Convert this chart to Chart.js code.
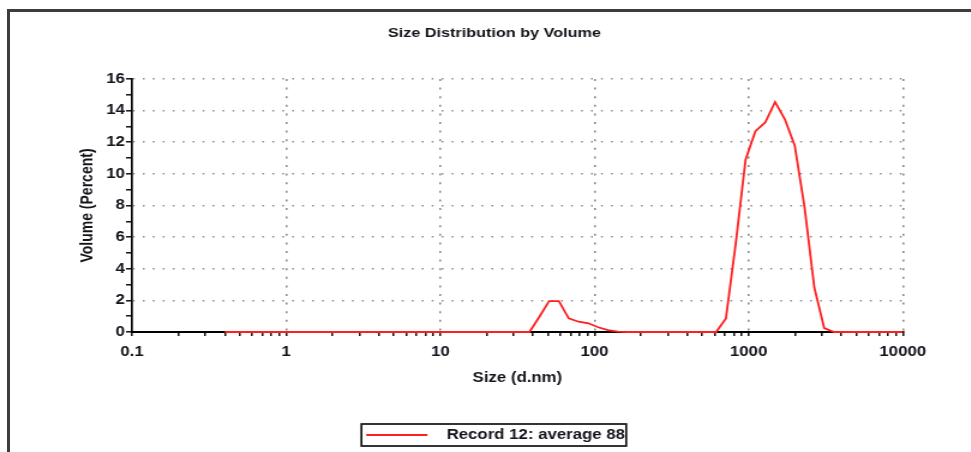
<!DOCTYPE html>
<html>
<head>
<meta charset="utf-8">
<title>Size Distribution by Volume</title>
<script src="https://cdn.jsdelivr.net/npm/chart.js@4"></script>
<style>
    html, body {
        margin: 0;
        padding: 0;
        background: #fff;
        width: 971px;
        height: 452px;
        overflow: hidden;
    }
    #report-frame {
        position: absolute;
        left: 7px;
        top: 9px;
        width: 1000px;
        height: 500px;
        border-top: 3px solid #3d3d3d;
        border-left: 3px solid #3d3d3d;
    }
    /* the report plot is drawn a bit narrow and stretched sideways */
    #chart-wrap {
        position: absolute;
        left: 0;
        top: 0;
        width: 824px;
        height: 452px;
        transform: scaleX(1.2);
        transform-origin: 0 0;
    }
</style>
</head>
<body>
<div id="report-frame"></div>
<div id="chart-wrap"><canvas id="size-chart" width="824" height="452"></canvas></div>
<script>
// size classes (d.nm) and volume %
const sizeClasses = [
    0.4, 0.4632, 0.5365, 0.6213, 0.7195, 0.8332, 0.9649, 1.117, 1.294, 1.499,
    1.736, 2.010, 2.328, 2.696, 3.122, 3.615, 4.187, 4.849, 5.615, 6.503,
    7.531, 8.721, 10.10, 11.70, 13.54, 15.69, 18.17, 21.04, 24.36, 28.21,
    32.67, 37.84, 43.82, 50.75, 58.77, 68.06, 78.82, 91.28, 105.7, 122.4,
    141.8, 164.2, 190.1, 220.2, 255.0, 295.3, 342.0, 396.1, 458.7, 531.2,
    615.1, 712.4, 825.0, 955.4, 1106, 1281, 1484, 1718, 1990, 2305,
    2669, 3091, 3580, 4145, 4801, 5560, 6439, 7456, 8635, 10000
]
const record12Volume = [
    0, 0, 0, 0, 0, 0, 0, 0, 0, 0,
    0, 0, 0, 0, 0, 0, 0, 0, 0, 0,
    0, 0, 0, 0, 0, 0, 0, 0, 0, 0,
    0, 0, 0.95, 1.95, 1.95, 0.86, 0.65, 0.55, 0.3, 0.12,
    0.02, 0, 0, 0, 0, 0, 0, 0, 0, 0,
    0, 0.86, 5.6, 10.9, 12.7, 13.25, 14.55, 13.45, 11.8, 7.9,
    2.8, 0.25, 0, 0, 0, 0, 0, 0, 0, 0
]
const recordLabel = 'Record 12: average 88'

const sizeDecades = [0.1, 1, 10, 100, 1000, 10000]
const sizeDecadeLabels = ['0.1', '1', '10', '100', '1000', '10000']
const volumeTicks = [0, 2, 4, 6, 8, 10, 12, 14, 16]

const FONT = "'Liberation Sans', Arial, sans-serif"
const TEXT = '#14141c'
const DOTS = '#8c8c8c'
const RED = '#ff1f1f'

Chart.defaults.font.family = FONT
Chart.defaults.color = TEXT

// short red line used as the legend sample
function makeLegendSample() {
    const c = document.createElement('canvas')
    c.width = 62
    c.height = 4
    const g = c.getContext('2d')
    g.strokeStyle = RED
    g.lineWidth = 1.8
    g.beginPath()
    g.moveTo(2, 2)
    g.lineTo(53, 2)
    g.stroke()
    return c
}

// box around the legend entry
const legendFrame = {
    id: 'legendFrame',
    afterDraw(chart) {
        const box = chart.legend.legendHitBoxes[0]
        if (!box) {
            return
        }
        const ctx = chart.ctx
        ctx.save()
        ctx.strokeStyle = '#111'
        ctx.lineWidth = 1.7
        ctx.strokeRect(box.left - 2, box.top - 4, box.width + 3, box.height + 8)
        ctx.restore()
    }
}

function isDecade(value) {
    return sizeDecades.indexOf(value) !== -1
}

var sizeChart
function setupChart() {
    const ctx = document.getElementById('size-chart').getContext('2d')
    sizeChart = new Chart(ctx, {
        type: 'line',
        data: {
            datasets: [
                {
                    label: recordLabel,
                    data: sizeClasses.map((s, i) => ({ x: s, y: record12Volume[i] })),
                    borderColor: RED,
                    backgroundColor: RED,
                    borderWidth: 1.8,
                    pointRadius: 0,
                    fill: false,
                    tension: 0,
                    clip: false
                }
            ]
        },
        options: {
            responsive: false,
            animation: false,
            layout: { padding: 0 },
            plugins: {
                title: {
                    display: true,
                    text: 'Size Distribution by Volume',
                    color: TEXT,
                    font: { size: 13.5, weight: 'bold' },
                    padding: { top: 24.9, bottom: 37.9 }
                },
                legend: {
                    position: 'bottom',
                    labels: {
                        color: TEXT,
                        font: { size: 14, weight: 'bold' },
                        usePointStyle: true,
                        pointStyle: makeLegendSample(),
                        pointStyleWidth: 62,
                        boxHeight: 14,
                        padding: 36
                    }
                },
                tooltip: { enabled: false }
            },
            scales: {
                x: {
                    type: 'logarithmic',
                    min: 0.1,
                    max: 10000,
                    afterBuildTicks: (scale) => {
                        let ticks = []
                        for (let d = 0; d < sizeDecades.length - 1; d++) {
                            ticks.push({ value: sizeDecades[d] })
                            for (let k = 2; k <= 9; k++) {
                                ticks.push({ value: sizeDecades[d] * k })
                            }
                        }
                        ticks.push({ value: sizeDecades[sizeDecades.length - 1] })
                        scale.ticks = ticks
                    },
                    afterFit: (scale) => { scale.height = 60 },
                    ticks: {
                        autoSkip: false,
                        maxRotation: 0,
                        padding: 8,
                        color: TEXT,
                        font: { size: 14, weight: 'bold' },
                        callback: (value) => {
                            let i = sizeDecades.indexOf(value)
                            return i === -1 ? '' : sizeDecadeLabels[i]
                        }
                    },
                    grid: {
                        color: (c) => {
                            if (c.tick && isDecade(c.tick.value) && c.tick.value > sizeDecades[0]) {
                                return DOTS
                            }
                            return 'rgba(0,0,0,0)'
                        },
                        lineWidth: 1.6,
                        tickColor: '#000',
                        tickWidth: 1.4,
                        tickLength: 4
                    },
                    border: {
                        display: true,
                        color: '#000',
                        width: 2,
                        dash: [2, 6.6]
                    },
                    title: {
                        display: true,
                        text: 'Size (d.nm)',
                        color: TEXT,
                        font: { size: 14, weight: 'bold' },
                        padding: { top: 0, bottom: 5.6 }
                    }
                },
                y: {
                    min: 0,
                    max: 16,
                    afterFit: (scale) => { scale.width = 110 },
                    ticks: {
                        stepSize: 1,
                        autoSkip: false,
                        padding: 1,
                        color: TEXT,
                        font: { size: 14, weight: 'bold' },
                        callback: (value) => volumeTicks.indexOf(value) !== -1 ? String(value) : ''
                    },
                    grid: {
                        color: (c) => {
                            if (c.tick && c.tick.value > 0 && volumeTicks.indexOf(c.tick.value) !== -1) {
                                return DOTS
                            }
                            return 'rgba(0,0,0,0)'
                        },
                        lineWidth: 1.6,
                        tickColor: '#000',
                        tickWidth: 1.4,
                        tickLength: 5
                    },
                    border: {
                        display: true,
                        color: '#000',
                        width: 1.7,
                        dash: [1.5, 6.8]
                    },
                    title: {
                        display: true,
                        text: 'Volume (Percent)',
                        color: TEXT,
                        font: { size: 14, weight: 'bold' },
                        padding: { top: 65, bottom: 0 }
                    }
                },
                // empty strip on the right of the plot
                rightGap: {
                    position: 'right',
                    display: true,
                    afterFit: (scale) => { scale.width = 71.7 },
                    ticks: { display: false },
                    grid: { display: false, drawOnChartArea: false },
                    border: { display: false }
                }
            }
        },
        plugins: [legendFrame]
    })
}

setupChart()
</script>
</body>
</html>
